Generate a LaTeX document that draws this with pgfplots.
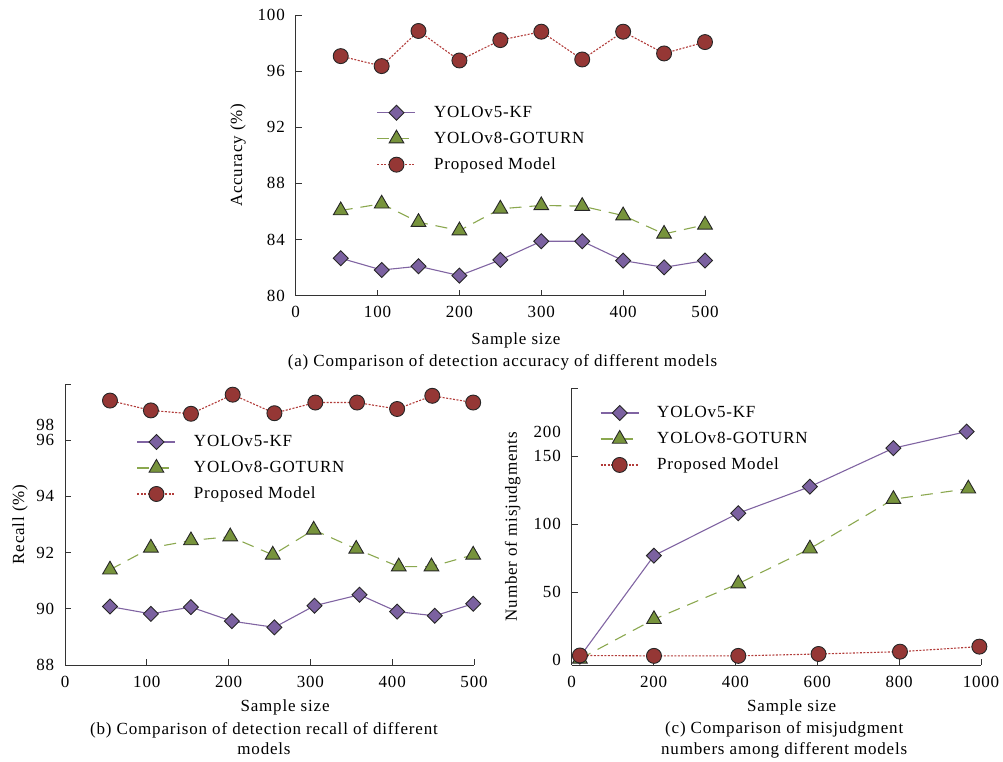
\documentclass[border=0pt]{standalone}
\usepackage{fontspec}
\setmainfont{Liberation Serif}[LetterSpace=4.8]
\usepackage{pgfplots}
\pgfplotsset{compat=1.18}
\definecolor{pline}{HTML}{8064A2}
\definecolor{pfill}{HTML}{7B61A0}
\definecolor{gline}{HTML}{8BA84F}
\definecolor{gfill}{HTML}{77933C}
\definecolor{rline}{HTML}{B23C3A}
\definecolor{rfill}{HTML}{953735}
\definecolor{edge}{HTML}{262626}
\pgfplotsset{
  mystyle/.style={
    scale only axis, anchor=south west, clip=false,
    axis x line*=bottom, axis y line*=left,
    tick align=inside, major tick length=6bp,
    axis line style={line width=0.9bp, draw=black!80},
    tick style={line width=0.9bp, black!80},
    /pgf/number format/assume math mode=true,
    /pgf/number format/1000 sep={},
    xticklabel style={anchor=center, inner sep=0pt, yshift=-16.7bp},
    yticklabel style={anchor=east, inner sep=0pt, xshift=-10.7bp},
    legend cell align=left,
    legend style={draw=none, fill=none, inner sep=0pt, anchor=north west,
      nodes={inner sep=0pt, text height=13bp, text depth=4bp},
      row sep=9bp, column sep=18bp},
    legend image code/.code={\draw[mark repeat=2,mark phase=2,##1] plot coordinates {(0bp,0bp)(19bp,0bp)(38bp,0bp)};},
  },
  s5/.style={color=pline, line width=1.1bp, mark=square*, mark size=5.3bp,
    mark options={rotate=45, fill=pfill, draw=edge, line width=0.9bp, solid}},
  s8/.style={color=gline, line width=1.1bp, dash pattern=on 12bp off 8bp, mark=triangle*, mark size=8.5bp,
    mark options={fill=gfill, draw=edge, line width=0.9bp, solid}},
  sp/.style={color=rline, line width=1.1bp, dash pattern=on 2bp off 1.5bp, mark=*, mark size=7.5bp,
    mark options={fill=rfill, draw=edge, line width=0.9bp, solid}},
}
\begin{document}
\fontsize{17bp}{20.3bp}\selectfont
\begin{tikzpicture}
\useasboundingbox (0,0) rectangle (1003bp,762bp);
% (a)
\begin{axis}[mystyle, at={(295.7bp,466.3bp)}, width=409.3bp, height=280.7bp,
  xmin=0, xmax=500, ymin=80, ymax=100,
  xtick={0,100,...,500}, ytick={80,84,...,100},
  xlabel={Sample size}, ylabel={Accuracy (\%)},
  xlabel style={at={(axis description cs:0.538,-0.158)}, anchor=center},
  ylabel style={at={(axis description cs:-0.141,0.5)}, anchor=center},
  legend style={at={(axis description cs:0.198,0.683)}}]
\addplot[s5] coordinates {(55,82.67)(105,81.83)(150,82.1)(200,81.43)(250,82.55)(300,83.88)(350,83.88)(400,82.5)(450,82.02)(500,82.5)};
\addlegendentry{YOLOv5-KF}
\addplot[s8] coordinates {(55,86.07)(105,86.55)(150,85.24)(200,84.64)(250,86.19)(300,86.43)(350,86.38)(400,85.71)(450,84.40)(500,85.05)};
\addlegendentry{YOLOv8-GOTURN}
\addplot[sp] coordinates {(55,97.07)(105,96.36)(150,98.86)(200,96.76)(250,98.21)(300,98.81)(350,96.83)(400,98.81)(450,97.26)(500,98.07)};
\addlegendentry{Proposed Model}
\end{axis}
% (b)
\begin{axis}[mystyle, at={(65bp,97bp)}, width=409bp, height=281bp,
  xmin=0, xmax=500, ymin=88, ymax=98,
  xtick={0,100,...,500}, ytick={88,90,...,98}, yticklabels={88,90,92,94,96,{}},
  extra y ticks={96.55}, extra y tick labels={98}, extra y tick style={major tick length=0pt},
  xlabel={Sample size}, ylabel={Recall (\%)},
  xlabel style={at={(axis description cs:0.538,-0.152)}, anchor=center},
  ylabel style={at={(axis description cs:-0.11,0.5)}, anchor=center},
  legend style={at={(axis description cs:0.1753,0.8246)}}]
\addplot[s5] coordinates {(55,90.08)(105,89.82)(154,90.06)(204,89.56)(256,89.34)(305,90.11)(360,90.5)(406,89.9)(452,89.75)(499,90.18)};
\addlegendentry{YOLOv5-KF}
\addplot[s8] coordinates {(55,91.39)(105,92.17)(154,92.43)(202,92.57)(254,91.92)(304,92.81)(356,92.13)(408,91.5)(448,91.5)(499,91.92)};
\addlegendentry{YOLOv8-GOTURN}
\addplot[sp] coordinates {(55,97.41)(105,97.06)(154,96.94)(205,97.62)(256,96.96)(306,97.34)(357,97.34)(406,97.11)(449,97.58)(499,97.34)};
\addlegendentry{Proposed Model}
\end{axis}
% (c)
\begin{axis}[mystyle, at={(571.7bp,97bp)}, width=409.3bp, height=276.8bp,
  xmin=0, xmax=1000, ymin=-3.5, ymax=200,
  xtick={0,200,...,1000}, ytick={50,100,150,200}, yticklabels={50,100,150,{}},
  extra y ticks={0,167.6}, extra y tick labels={0,200}, extra y tick style={major tick length=0pt},
  xlabel={Sample size}, ylabel={Number of misjudgments},
  xlabel style={at={(axis description cs:0.5375,-0.155)}, anchor=center},
  ylabel style={at={(axis description cs:-0.144,0.5)}, anchor=center},
  legend style={at={(axis description cs:0.069,0.942)}}]
\addplot[s5] coordinates {(20,2.6)(201,76.9)(407,108.1)(582,127.6)(786,155.9)(965,168.1)};
\addlegendentry{YOLOv5-KF}
\addplot[s8] coordinates {(20,1)(201,30.1)(407,56.3)(582,82)(786,118.4)(969,126.1)};
\addlegendentry{YOLOv8-GOTURN}
\addplot[sp] coordinates {(20,3.5)(201,3.2)(407,3.2)(603,4.6)(802,6.3)(996,10)};
\addlegendentry{Proposed Model}
\end{axis}
\node[anchor=center] at (502.5bp,400bp) {(a) Comparison of detection accuracy of different models};
\node[anchor=center, align=center] at (264bp,23.7bp) {(b) Comparison of detection recall of different\\models};
\node[anchor=center, align=center] at (784.2bp,22.3bp) {(c) Comparison of misjudgment\\numbers among different models};
\end{tikzpicture}
\end{document}
